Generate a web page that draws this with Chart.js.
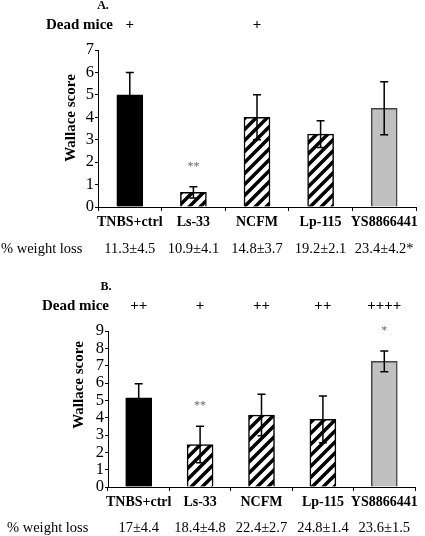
<!DOCTYPE html>
<html>
<head>
<meta charset="utf-8">
<script src="https://cdn.jsdelivr.net/npm/chart.js@4.4.1/dist/chart.umd.min.js"></script>
<style>
  body { margin: 0; background: #fff; }
  #wrap { position: relative; width: 425px; height: 536px; overflow: hidden; }
  #chartA { position: absolute; left: 0; top: 0; }
  #chartB { position: absolute; left: 0; top: 260px; }
</style>
</head>
<body>
<div id="wrap">
  <canvas id="chartA" width="425" height="260"></canvas>
  <canvas id="chartB" width="425" height="276"></canvas>
</div>
<script>
const categories = ['TNBS+ctrl', 'Ls-33', 'NCFM', 'Lp-115', 'YS8866441']

// panel A
const scoreA = [5.0, 0.65, 4.0, 3.25, 4.4]
const errorA = [1.0, 0.25, 1.0, 0.6, 1.18]
const deadA = ['+', '', '+', '', '']
const starsA = ['', '**', '', '', '']
const weightA = ['11.3±4.5', '10.9±4.1', '14.8±3.7', '19.2±2.1', '23.4±4.2*']

// panel B
const scoreB = [5.15, 2.45, 4.15, 3.9, 7.25]
const errorB = [0.8, 1.05, 1.2, 1.35, 0.6]
const deadB = ['++', '+', '++', '++', '++++']
const starsB = ['', '**', '', '', '*']
const weightB = ['17±4.4', '18.4±4.8', '22.4±2.7', '24.8±1.4', '23.6±1.5']

const serif = "'Liberation Serif', 'Times New Roman', serif"

function hatch() {
    const c = document.createElement('canvas')
    c.width = 11; c.height = 11
    const g = c.getContext('2d')
    g.fillStyle = '#fff'
    g.fillRect(0, 0, 11, 11)
    g.strokeStyle = '#000'
    g.lineWidth = 3.5
    g.beginPath()
    g.moveTo(-1, 12); g.lineTo(12, -1)
    g.moveTo(-6.5, 6.5); g.lineTo(6.5, -6.5)
    g.moveTo(4.5, 17.5); g.lineTo(17.5, 4.5)
    g.stroke()
    return g.createPattern(c, 'repeat')
}

function makeChart(id, p) {
    const stripes = hatch()
    const decorations = {
        id: 'decorations',
        afterDraw: (chart) => {
            const {ctx} = chart
            const x = chart.scales.x
            const y = chart.scales.y
            ctx.save()
            // error bars
            ctx.strokeStyle = '#000'
            ctx.lineWidth = 1.5
            p.scores.forEach((v, i) => {
                const cx = x.getPixelForValue(i)
                const top = y.getPixelForValue(v + p.errors[i])
                const bot = y.getPixelForValue(v - p.errors[i])
                ctx.beginPath()
                ctx.moveTo(cx, top); ctx.lineTo(cx, bot)
                ctx.moveTo(cx - 4, top); ctx.lineTo(cx + 4, top)
                ctx.moveTo(cx - 4, bot); ctx.lineTo(cx + 4, bot)
                ctx.stroke()
            })
            // significance stars
            ctx.fillStyle = '#666'
            ctx.font = '12px ' + serif
            ctx.textAlign = 'center'
            ctx.textBaseline = 'middle'
            p.stars.forEach((s, i) => {
                if (!s) return
                const top = y.getPixelForValue(p.scores[i] + p.errors[i])
                ctx.fillText(s, x.getPixelForValue(i), top - p.starGap)
            })
            // panel letter
            ctx.fillStyle = '#000'
            ctx.font = 'bold 12px ' + serif
            ctx.fillText(p.letter, p.letterX, p.letterY)
            // dead mice row
            ctx.font = 'bold 15px ' + serif
            ctx.textAlign = 'right'
            ctx.fillText('Dead mice', p.deadLabelX, p.deadY)
            ctx.textAlign = 'center'
            p.dead.forEach((d, i) => ctx.fillText(d, x.getPixelForValue(i), p.deadY))
            // weight loss row
            ctx.font = '14.5px ' + serif
            ctx.textAlign = 'left'
            ctx.fillText('% weight loss', p.weightLabelX, p.weightY)
            ctx.textAlign = 'center'
            p.weight.forEach((w, i) => ctx.fillText(w, x.getPixelForValue(i), p.weightY))
            // y title
            ctx.font = 'bold 15px ' + serif
            ctx.translate(p.titleX, p.titleY)
            ctx.rotate(-Math.PI / 2)
            ctx.fillText('Wallace score', 0, 0)
            ctx.restore()
        }
    }
    return new Chart(document.getElementById(id), {
        type: 'bar',
        data: {
            labels: categories,
            datasets: [{
                data: p.scores,
                backgroundColor: ['#000', stripes, stripes, stripes, '#c0c0c0'],
                borderColor: ['#000', '#000', '#000', '#000', '#444'],
                borderWidth: 1.5,
                barThickness: 26
            }]
        },
        options: {
            responsive: false,
            animation: false,
            layout: { padding: p.padding },
            plugins: {
                legend: { display: false },
                tooltip: { enabled: false }
            },
            scales: {
                x: {
                    afterFit: (scale) => { scale.height = 30 },
                    grid: { offset: true, drawOnChartArea: false, drawTicks: true, tickLength: 4, color: '#000' },
                    border: { display: true, color: '#000', width: 1 },
                    ticks: {
                        color: '#000', padding: 3, maxRotation: 0, minRotation: 0, autoSkip: false,
                        font: { family: serif, size: 14, weight: 'bold' }
                    }
                },
                y: {
                    min: 0,
                    max: p.max,
                    afterFit: (scale) => { scale.width = p.axisX },
                    grid: { drawOnChartArea: false, drawTicks: true, tickLength: 3, color: '#000' },
                    border: { display: true, color: '#000', width: 1 },
                    ticks: {
                        stepSize: 1, autoSkip: false, color: '#000', padding: 1,
                        font: { family: serif, size: 16.5 }
                    }
                }
            }
        },
        plugins: [decorations]
    })
}

makeChart('chartA', {
    scores: scoreA, errors: errorA, stars: starsA, dead: deadA, weight: weightA,
    max: 7, axisX: 98, padding: { top: 50, bottom: 23, left: 0, right: 9 },
    letter: 'A.', letterX: 103, letterY: 6,
    deadLabelX: 113, deadY: 25, weightLabelX: 1, weightY: 249,
    titleX: 71, titleY: 118, starGap: 20
})

makeChart('chartB', {
    scores: scoreB, errors: errorB, stars: starsB, dead: deadB, weight: weightB,
    max: 9, axisX: 108, padding: { top: 71, bottom: 19, left: 0, right: 10 },
    letter: 'B.', letterX: 106, letterY: 27,
    deadLabelX: 109, deadY: 46, weightLabelX: 7, weightY: 268,
    titleX: 79, titleY: 125, starGap: 20
})
</script>
</body>
</html>
